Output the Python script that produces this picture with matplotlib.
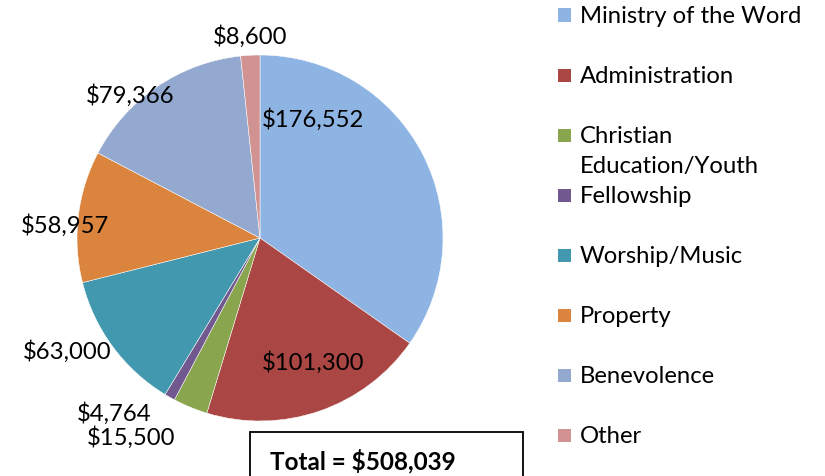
import matplotlib

matplotlib.use("Agg")

import matplotlib.pyplot as plt
from matplotlib.patches import Rectangle

plt.rcParams["font.family"] = ["Lato", "DejaVu Sans"]

categories = [
    "Ministry of the Word",
    "Administration",
    "Christian\nEducation/Youth",
    "Fellowship",
    "Worship/Music",
    "Property",
    "Benevolence",
    "Other",
]
amounts = [176552, 101300, 15500, 4764, 63000, 58957, 79366, 8600]
colors = ["#8EB4E3", "#AA4643", "#89A54E", "#71588F", "#4198AF", "#DB843D", "#93A9CF", "#D19392"]

# label centres in pie units (radius = 1)
label_pos = [
    (0.29, 0.645),
    (0.29, -0.68),
    (-0.705, -1.09),
    (-0.797, -0.96),
    (-1.055, -0.62),
    (-1.066, 0.07),
    (-0.71, 0.78),
    (-0.055, 1.10),
]

W, H = 825, 476
CX, CY, R = 260, 238, 183
FS = 17.2

fig = plt.figure(figsize=(W / 100, H / 100), dpi=100)
ax = fig.add_axes([0, 0, 1, 1])

ax.pie(
    amounts,
    colors=colors,
    startangle=90,
    counterclock=False,
    radius=1.0,
    center=(0, 0),
    wedgeprops=dict(edgecolor="white", linewidth=0.35),
    frame=True,
)
ax.set_xlim(-CX / R, (W - CX) / R)
ax.set_ylim(-(H - CY) / R, CY / R)
ax.set_aspect("equal")
ax.axis("off")

for val, (lx, ly) in zip(amounts, label_pos):
    ax.text(lx, ly, "${:,}".format(val), ha="center", va="center", fontsize=FS, color="black")


# legend, drawn by hand so the wrapped entry keeps the row spacing
def px(x, y):
    return (x - CX) / R, (CY - y) / R


sq = 13 / R
for i, (name, col) in enumerate(zip(categories, colors)):
    y_px = 15 + i * 60
    x0, y0 = px(558, y_px)
    ax.add_patch(Rectangle((x0, y0 - sq / 2), sq, sq, facecolor=col, edgecolor="none"))
    tx, ty = px(580, y_px - 9)
    ax.text(tx, ty, name, ha="left", va="top", fontsize=FS, linespacing=1.5, color="black")

# total box
bx0, by0 = px(250, 476)
bx1, by1 = px(523, 432)
ax.add_patch(Rectangle((bx0, by0 - 0.05), bx1 - bx0, by1 - by0 + 0.05,
                       facecolor="white", edgecolor="black", linewidth=1.3))
tx, ty = px(270, 461)
ax.text(tx, ty, "Total = $508,039", ha="left", va="center", fontsize=17.5, fontweight="bold")

fig.savefig("out.png", dpi=100)
